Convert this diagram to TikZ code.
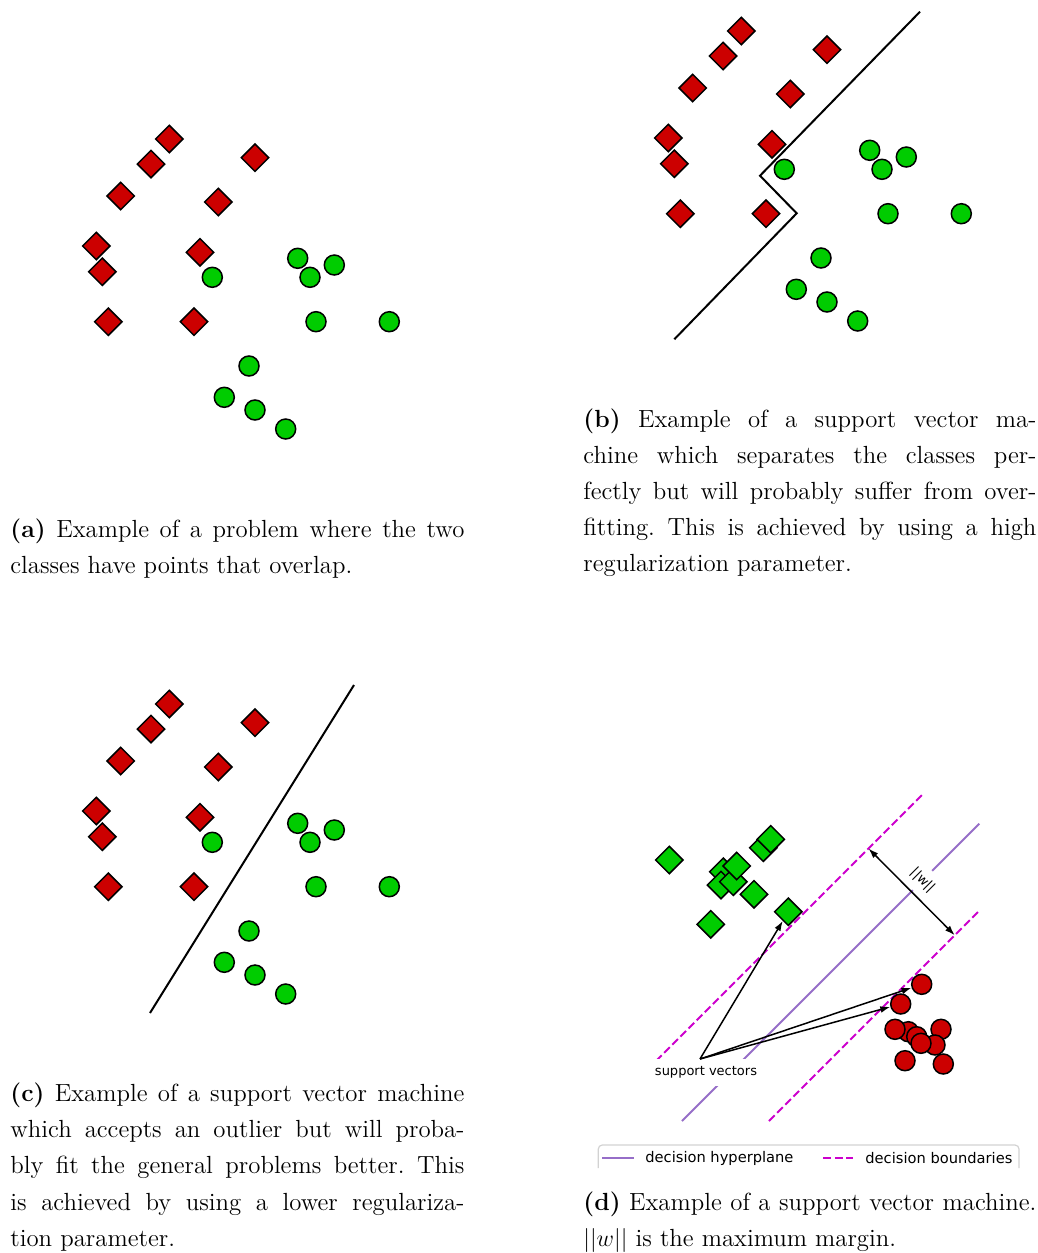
\documentclass[tikz,border=0pt]{standalone}
\usepackage{fontspec}
\newfontfamily\dejavu{DejaVu Sans}
\usetikzlibrary{shapes.geometric,arrows.meta}
\definecolor{mred}{RGB}{204,0,0}
\definecolor{mgreen}{RGB}{0,204,0}
\definecolor{hpurple}{RGB}{150,110,200}
\definecolor{bmag}{RGB}{204,0,204}
\frenchspacing
\newcommand\capline[1]{\hbox to\hsize{#1}}
\newcommand\lastline[1]{\hbox{#1}}
\newcommand\pointset[1]{%
  \foreach \x/\y [count=\i] in {169.3/139,151/164,255/157.7,120.7/196,218.3/202,96.3/246,102.3/271.7,200/252.3,108.3/321.7,194/321.7}
    {\node[rdia] (#1d\i) at (\x,\y) {};}
  \foreach \x/\y [count=\i] in {212.3/277.3,297.7/258.3,310/277.3,334.3/265,316/321.7,389.3/321.7,249/366,224.3/397.3,255/410,285.7/429}
    {\node[gcirc] (#1c\i) at (\x,\y) {};}
}
\begin{document}
\begin{tikzpicture}[x=0.5pt,y=-0.5pt,
  rdia/.style={diamond,draw=black,line width=0.75pt,fill=mred,minimum size=14pt,inner sep=0pt},
  gdia/.style={diamond,draw=black,line width=0.75pt,fill=mgreen,minimum size=14pt,inner sep=0pt},
  gcirc/.style={circle,draw=black,line width=0.75pt,fill=mgreen,minimum size=10pt,inner sep=0pt},
  rcirc/.style={circle,draw=black,line width=0.75pt,fill=mred,minimum size=10pt,inner sep=0pt},
  sepline/.style={black,line width=1pt},
  hyper/.style={hpurple,line width=1pt},
  bound/.style={bmag,line width=1pt,dash pattern=on 4pt off 1.75pt},
  arr/.style={-{Latex[length=5pt,width=3.4pt]},line width=0.75pt},
  darr/.style={{Latex[length=5pt,width=3.4pt]}-{Latex[length=5pt,width=3.4pt]},line width=0.75pt},
  capt/.style={anchor=base west,inner sep=0pt,font=\fontsize{12.4}{18.05}\selectfont},
  lab/.style={font=\dejavu\fontsize{6.5}{8}\selectfont},
  leg/.style={anchor=west,inner sep=0pt,font=\dejavu\fontsize{7.33}{9}\selectfont},
]
\useasboundingbox (0,0) rectangle (1038,1253);

% ---------- panel (a)
\begin{scope}
  \pointset{a}
\end{scope}

% ---------- panel (b)
\coordinate (b1) at (674.3,339.3);
\coordinate (b2) at (796.7,213.3);
\coordinate (b3) at (760,175.7);
\coordinate (b4) at (920,11.7);
\draw[sepline] (b1) -- (b2) -- (b3) -- (b4);
\begin{scope}[shift={(572,-108)}]
  \pointset{b}
\end{scope}

% ---------- panel (c)
\coordinate (c1) at (150,1013);
\coordinate (c2) at (354,685);
\draw[sepline] (c1) -- (c2);
\begin{scope}[shift={(0,565)}]
  \pointset{c}
\end{scope}

% ---------- panel (d)
\coordinate (h1) at (682,1121);
\coordinate (h2) at (979.3,823.7);
\coordinate (u1) at (656,1061);
\coordinate (u2) at (923,794);
\coordinate (l1) at (769,1121);
\coordinate (l2) at (979.3,910.7);
\draw[hyper] (h1) -- (h2);
\draw[bound] (u1) -- (u2);
\draw[bound] (l1) -- (l2);

\node[lab,fill=white,inner xsep=2.5pt,inner ysep=3.7pt] (sv) at (706,1072.5) {support vectors};
\node[lab,fill=white,rotate=-45,inner xsep=1pt,inner ysep=3.5pt] (wl) at (922.5,880.5) {||w||};

\foreach \x/\y [count=\i] in {669.3/860,763.3/847.7,770.7/839.3,723.3/871.7,721/885,733.3/881.7,736.7/866,754/894.3,788.3/911.7,710.7/924.3}
  {\node[gdia] (dg\i) at (\x,\y) {};}
\foreach \x/\y [count=\i] in {921.7/984.3,900.7/1004,908.3/1031.7,895/1029.3,941/1029.3,935/1045,916.7/1036.7,921/1043.3,905/1060.7,943.3/1064}
  {\node[rcirc] (dr\i) at (\x,\y) {};}

\coordinate (svo) at (700,1059);
\draw[arr] (svo) -- (dg9);
\draw[arr] (svo) -- (dr1);
\draw[arr] (svo) -- (dr2);

\coordinate (wa) at (868.5,848.5);
\coordinate (wb) at (954.75,935.25);
\draw[darr] (wa) -- (wb);

% legend
\draw[gray!35,line width=0.6pt,rounded corners=2pt] (598.3,1168) -- (598.3,1145) -- (1019,1145) -- (1019,1168);
\coordinate (lh1) at (602,1157.7);
\coordinate (lh2) at (634,1157.7);
\draw[hyper] (lh1) -- (lh2);
\node[leg] (lht) at (645,1158.5) {decision hyperplane};
\coordinate (lb1) at (823.3,1157.7);
\coordinate (lb2) at (853.3,1157.7);
\draw[bound] (lb1) -- (lb2);
\node[leg] (lbt) at (865,1158.5) {decision boundaries};

% ---------- captions
\node[capt] (capa) at (10,537.3) {\vtop{\hsize=227pt\baselineskip=18.05pt
  \capline{\textbf{(a)} Example of a problem where the two}
  \lastline{classes have points that overlap.}}};
\node[capt] (capb) at (583,427.3) {\vtop{\hsize=226.5pt\baselineskip=18.05pt
  \capline{\textbf{(b)} Example of a support vector ma-}
  \capline{chine which separates the classes per-}
  \capline{fectly but will probably suffer from over-}
  \capline{fitting. This is achieved by using a high}
  \lastline{regularization parameter.}}};
\node[capt] (capc) at (10,1101.7) {\vtop{\hsize=227pt\baselineskip=18.05pt
  \capline{\textbf{(c)} Example of a support vector machine}
  \capline{which accepts an outlier but will proba-}
  \capline{bly fit the general problems better. This}
  \capline{is achieved by using a lower regulariza-}
  \lastline{tion parameter.}}};
\node[capt] (capd) at (583,1210) {\vtop{\hsize=226.5pt\baselineskip=18.05pt
  \capline{\textbf{(d)} Example of a support vector machine.}
  \lastline{$||w||$ is the maximum margin.}}};
\end{tikzpicture}
\end{document}
